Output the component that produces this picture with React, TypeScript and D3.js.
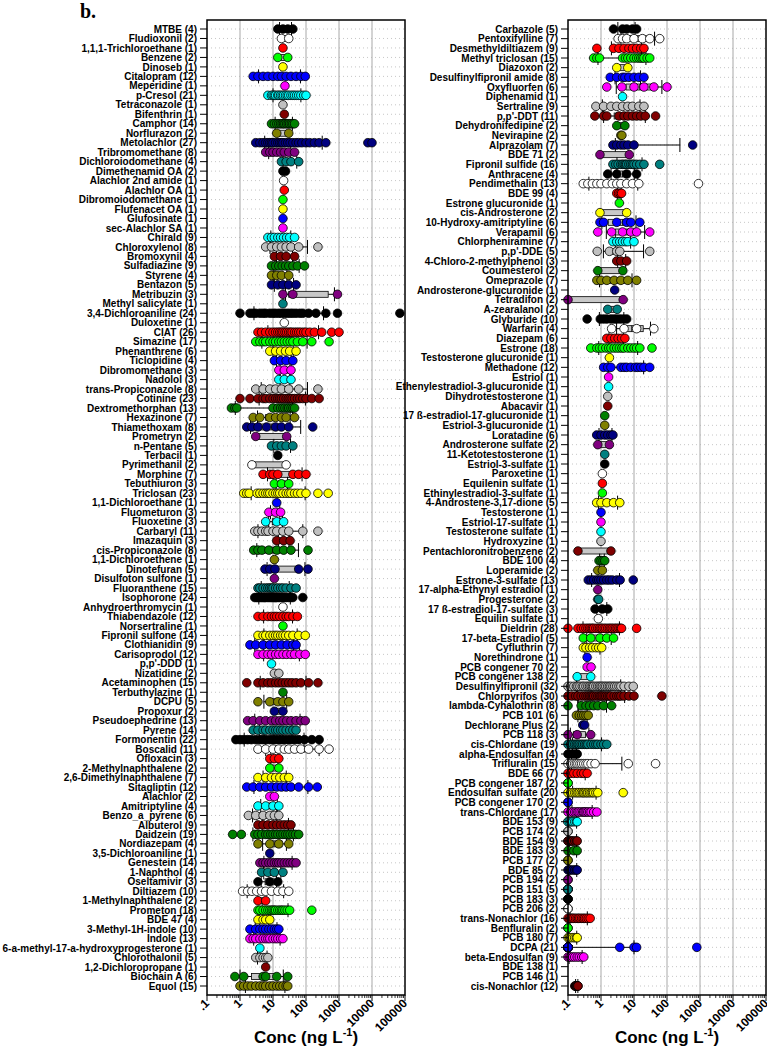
import React from 'react';
import * as d3 from 'd3';

const leftLabels = [
  'MTBE (4)','Fludioxonil (2)','1,1,1-Trichloroethane (1)','Benzene (2)','Dinoseb (1)','Citalopram (12)','Meperidine (1)','p-Cresol (21)','Tetraconazole (1)','Bifenthrin (1)',
  'Camphor (14)','Norflurazon (2)','Metolachlor (27)','Tribromomethane (8)','Dichloroiodomethane (4)','Dimethenamid OA (2)','Alachlor 2nd amide (1)','Alachlor OA (1)','Dibromoiodomethane (1)','Flufenacet OA (1)',
  'Glufosinate (1)','sec-Alachlor SA (1)','Chirald (9)','Chloroxylenol (8)','Bromoxynil (4)','Sulfadiazine (9)','Styrene (4)','Bentazon (5)','Metribuzin (3)','Methyl salicylate (1)',
  '3,4-Dichloroaniline (24)','Duloxetine (1)','CIAT (26)','Simazine (17)','Phenanthrene (6)','Ticlopidine (4)','Dibromomethane (3)','Nadolol (3)','trans-Propiconazole (8)','Cotinine (23)',
  'Dextromethorphan (13)','Hexazinone (7)','Thiamethoxam (8)','Prometryn (2)','n-Pentane (5)','Terbacil (1)','Pyrimethanil (2)','Morphine (7)','Tebuthiuron (3)','Triclosan (23)',
  '1,1-Dichloroethane (1)','Fluometuron (3)','Fluoxetine (3)','Carbaryl (11)','Imazaquin (3)','cis-Propiconazole (8)','1,1-Dichloroethene (1)','Dinotefuran (5)','Disulfoton sulfone (1)','Fluoranthene (15)',
  'Isophorone (24)','Anhydroerthromycin (1)','Thiabendazole (12)','Norsertraline (1)','Fipronil sulfone (14)','Clothianidin (9)','Carisoprodol (12)',"p,p'-DDD (1)",'Nizatidine (2)','Acetaminophen (15)',
  'Terbuthylazine (1)','DCPU (5)','Propoxur (2)','Pseudoephedrine (13)','Pyrene (14)','Formonentin (22)','Boscalid (11)','Ofloxacin (3)','2-Methylnaphthalene (2)','2,6-Dimethylnaphthalene (7)',
  'Sitagliptin (12)','Alachlor (2)','Amitriptyline (4)','Benzo_a_pyrene (6)','Albuterol (9)','Daidzein (19)','Nordiazepam (4)','3,5-Dichloroaniline (1)','Genestein (14)','1-Naphthol (4)',
  'Oseltamivir (3)','Diltiazem (10)','1-Methylnaphthalene (2)','Prometon (18)','BDE 47 (4)','3-Methyl-1H-indole (10)','Indole (13)','6-a-methyl-17-a-hydroxyprogesterone (1)','Chlorothalonil (5)','1,2-Dichloropropane (1)',
  'Biochain A (6)','Equol (15)'
];

const leftValues: number[][] = [
  [14, 20, 28, 40],
  [18, 30],
  [20],
  [14, 28],
  [20],
  [2.5, 3.5, 5, 7, 10, 14, 18, 25, 35, 50, 70, 95],
  [23],
  [7, 9, 10, 11, 12, 14, 15, 17, 19, 21, 24, 27, 30, 35, 40, 45, 52, 60, 70, 85, 100],
  [20],
  [22],
  [9, 11, 13, 15, 17, 19, 21, 23, 26, 29, 32, 36, 40, 45],
  [13, 30],
  [3, 4, 5, 6, 7, 8, 9, 10, 12, 14, 16, 18, 20, 24, 28, 33, 40, 50, 60, 75, 100, 130, 180, 250, 400, 7500, 10000],
  [6, 8, 10, 13, 17, 22, 30, 45],
  [18, 25, 35, 60],
  [20, 24],
  [21],
  [22],
  [20],
  [20],
  [20],
  [20],
  [7, 9, 11, 14, 17, 21, 26, 32, 45],
  [6, 9, 13, 18, 25, 35, 60, 230],
  [11, 17, 25, 45],
  [9, 12, 15, 19, 24, 30, 40, 55, 90],
  [9, 13, 18, 30],
  [9, 14, 20, 30, 50],
  [20, 40, 900],
  [20],
  [1, 2, 2.5, 3, 4, 5, 6, 8, 10, 12, 15, 18, 22, 27, 33, 40, 50, 65, 80, 120, 200, 400, 900, 70000],
  [22],
  [3.5, 4.5, 6, 8, 10, 12, 14, 16, 18, 20, 23, 26, 30, 34, 38, 45, 52, 60, 70, 85, 100, 130, 180, 300, 600, 1000],
  [3, 4, 5, 6, 8, 10, 12, 15, 18, 22, 27, 33, 40, 55, 80, 150, 500],
  [8, 12, 17, 24, 32, 50],
  [11, 17, 25, 40],
  [15, 22, 35],
  [15, 22, 35],
  [3, 5, 8, 12, 18, 30, 60, 230],
  [1, 2, 3.5, 5, 6, 8, 10, 12, 14, 16, 18, 21, 25, 29, 33, 38, 45, 55, 65, 80, 100, 150, 250],
  [0.55, 0.7, 0.8, 10, 14, 17, 20, 23, 27, 30, 35, 40, 45],
  [2.5, 4, 8, 12, 18, 25, 45],
  [1.6, 2.3, 3.5, 6.4, 12, 18, 30, 160],
  [3, 26],
  [9, 13, 18, 25, 40],
  [14],
  [2.3, 25],
  [5, 8, 10, 14, 40, 60, 100],
  [11, 18, 30],
  [1.3, 1.6, 1.9, 3.3, 4, 5, 6, 7, 8, 10, 12, 14, 16, 20, 25, 30, 35, 45, 55, 70, 100, 230, 470],
  [13],
  [7.5, 12, 17],
  [6, 13, 21],
  [2.8, 3.5, 4.6, 6, 7.1, 10, 13, 20, 30, 80, 230],
  [13, 21, 33],
  [2.6, 3.5, 4.6, 7.5, 13, 21, 35, 115],
  [11],
  [5.7, 8, 11.5, 60, 115],
  [11],
  [3.5, 4, 5, 6, 7, 8, 9, 10, 12, 14, 17, 20, 25, 35, 50],
  [2.8, 3.2, 3.6, 4, 4.5, 5, 5.5, 6, 7, 8, 9, 10, 11, 12, 13, 15, 17, 19, 22, 25, 30, 35, 40, 80],
  [20],
  [3.5, 5, 7, 9, 11, 13, 16, 20, 25, 30, 40, 55],
  [20],
  [3.5, 5, 6, 8, 10, 12, 14, 17, 20, 24, 30, 40, 60, 95],
  [2, 3, 5, 8, 12, 18, 27, 40, 50],
  [3.5, 5, 7, 9, 12, 15, 20, 26, 35, 45, 65, 95],
  [9],
  [11, 15],
  [1.6, 3.5, 5, 7, 9, 12, 15, 19, 24, 30, 38, 50, 70, 120, 230],
  [20],
  [3.5, 8, 14, 20, 30],
  [11, 20],
  [1.7, 2.5, 4, 6, 9, 12, 16, 20, 26, 35, 50, 70, 95],
  [2.5, 3.5, 5, 6, 8, 10, 12, 14, 17, 20, 25, 32, 40, 50],
  [0.75, 1, 1.3, 1.7, 2.2, 3, 4, 5, 6, 8, 10, 12, 15, 18, 22, 28, 35, 45, 60, 90, 150, 250],
  [3.5, 6, 10, 15, 22, 30, 45, 70, 120, 250, 500],
  [8, 11, 15],
  [8, 15],
  [3.5, 6, 9, 12, 16, 22, 30],
  [1.6, 2.5, 4, 6, 9, 13, 18, 25, 35, 60, 120, 220],
  [8, 11],
  [3.5, 6, 10, 15],
  [1.8, 3, 5, 8, 11, 15],
  [3.5, 5, 7, 10, 13, 17, 22, 28, 35],
  [0.6, 1.1, 2.8, 3.5, 4.5, 6, 7, 8.5, 10, 12, 14, 17, 20, 24, 28, 33, 40, 48, 60],
  [3.5, 8, 15, 30],
  [8],
  [4, 5, 6, 7.5, 9, 11, 13, 15, 18, 22, 27, 33, 40, 50],
  [4.5, 7, 11, 20],
  [3.5, 8, 14],
  [1.2, 1.7, 2.3, 3.2, 4.5, 6, 9, 14, 20, 30],
  [3.5, 6],
  [3.5, 4, 5, 6, 7, 8, 9, 10, 11, 12, 14, 16, 18, 20, 23, 27, 32, 150],
  [3.5, 5, 6, 8],
  [2, 3, 4, 5, 6, 7.5, 9, 11, 13, 15],
  [2, 2.5, 3, 4, 5, 6, 7, 8, 10, 12, 14, 17, 20],
  [4],
  [3, 4, 5, 6, 7],
  [6],
  [0.7, 1.3, 5, 6, 13, 28],
  [1, 1.3, 1.7, 2.2, 3, 4, 5, 6, 8, 10, 13, 16, 20, 25, 28]
];

const rightLabels = [
  'Carbazole (5)','Pentoxifylline (7)','Desmethyldiltiazem (9)','Methyl triclosan (15)','Diazoxon (2)','Desulfinylfipronil amide (8)','Oxyfluorfen (6)','Diphenamid (1)','Sertraline (9)',"p,p'-DDT (11)",
  'Dehydronifedipine (2)','Nevirapine (2)','Alprazolam (7)','BDE 71 (2)','Fipronil sulfide (16)','Anthracene (4)','Pendimethalin (13)','BDE 99 (4)','Estrone glucuronide (1)','cis-Androsterone (2)',
  '10-Hydroxy-amitriptyline (6)','Verapamil (6)','Chlorpheniramine (7)',"p,p'-DDE (5)",'4-Chloro-2-methylphenol (3)','Coumesterol (2)','Omeprazole (7)','Androsterone-glucuronide (1)','Tetradifon (2)','A-zearalanol (2)',
  'Glyburide (10)','Warfarin (4)','Diazepam (6)','Estrone (18)','Testosterone glucuronide (1)','Methadone (12)','Estriol (1)','Ethenylestradiol-3-glucuronide (1)','Dihydrotestosterone (1)','Abacavir (1)',
  '17 ß-estradiol-17-glucuronide (1)','Estriol-3-glucuronide (1)','Loratadine (6)','Androsterone sulfate (2)','11-Ketotestosterone (1)','Estriol-3-sulfate (1)','Paroxetine (1)','Equilenin sulfate (1)','Ethinylestradiol-3-sulfate (1)','4-Androstene-3,17-dione (5)',
  'Testosterone (1)','Estriol-17-sulfate (1)','Testosterone sulfate (1)','Hydroxyzine (1)','Pentachloronitrobenzene (2)','BDE 100 (4)','Loperamide (2)','Estrone-3-sulfate (13)','17-alpha-Ethynyl estradiol (1)','Progesterone (2)',
  '17 ß-estradiol-17-sulfate (3)','Equilin sulfate (1)','Dieldrin (28)','17-beta-Estradiol (5)','Cyfluthrin (7)','Norethindrone (1)','PCB congener 70 (2)','PCB congener 138 (2)','Desulfinylfipronil (32)','Chlorpyrifos (30)',
  'lambda-Cyhalothrin (8)','PCB 101 (6)','Dechlorane Plus (2)','PCB 118 (3)','cis-Chlordane (19)','alpha-Endosulfan (4)','Trifluralin (15)','BDE 66 (7)','PCB congener 187 (2)','Endosulfan sulfate (20)',
  'PCB congener 170 (2)','trans-Chlordane (17)','BDE 153 (9)','PCB 174 (2)','BDE 154 (9)','BDE 183 (3)','PCB 177 (2)','BDE 85 (7)','PCB 194 (2)','PCB 151 (5)',
  'PCB 183 (3)','PCB 206 (2)','trans-Nonachlor (16)','Benfluralin (2)','PCB 180 (7)','DCPA (21)','beta-Endosulfan (9)','BDE 138 (1)','PCB 146 (1)','cis-Nonachlor (12)'
];

const rightValues: number[][] = [
  [2.4, 4.5, 6, 9, 12],
  [3.3, 4.5, 6, 10, 18, 30, 60],
  [0.75, 2.4, 3.5, 5, 7, 9, 12, 16, 20],
  [0.6, 0.75, 0.9, 4.5, 5.5, 6.5, 8, 10, 12, 14, 16, 18, 20, 25, 30],
  [3, 6.5],
  [1.9, 3, 4.5, 5.3, 7, 10, 14, 20],
  [1.5, 4.3, 10, 20, 40, 100],
  [4.5],
  [0.7, 1.2, 2, 3, 4.5, 6.5, 9, 14, 20],
  [0.65, 1.2, 1.5, 3.5, 5, 6.5, 9, 12, 16, 22, 45],
  [3, 5.3],
  [4, 4.3],
  [2.3, 3, 4, 5, 6.5, 10, 600],
  [0.93, 7.2],
  [2.3, 2.8, 3.3, 4, 4.5, 5, 5.5, 6, 7, 8, 9, 10, 12, 15, 20, 60],
  [1.6, 3, 6, 12],
  [0.29, 0.4, 0.55, 0.75, 1, 1.5, 2.2, 3, 4, 6, 9, 14, 900],
  [3, 3.4, 3.8, 4.2],
  [3.6],
  [0.93, 6],
  [0.93, 1.2, 3, 6, 8, 15],
  [0.8, 2.1, 4.5, 8, 12, 30],
  [2.3, 3, 3.7, 4.5, 5.5, 6.5, 10],
  [0.77, 1.8, 3, 3.7, 30],
  [3, 4, 6],
  [0.8, 4.6],
  [0.75, 1, 1.5, 2.5, 4, 6.5, 12],
  [2.6],
  [0.1, 4.7],
  [1.6, 3.1],
  [0.38, 0.95, 1.2, 1.5, 2, 2.5, 3, 3.8, 4.8, 6],
  [2.1, 5, 12, 40],
  [1.5, 2, 2.6, 3.3, 4.2, 5.3],
  [0.49, 0.75, 0.9, 1.1, 1.4, 1.7, 2, 2.5, 3, 3.6, 4.3, 5, 6.5, 8, 10, 12, 15, 35],
  [1.8],
  [1.2, 1.6, 2, 4, 5, 6, 8, 11, 13, 16, 20, 30],
  [1.7],
  [1.7],
  [1.6],
  [1.6],
  [1.3],
  [1.3],
  [0.74, 1, 1.3, 1.6, 2, 2.3],
  [0.8, 1.8],
  [1.3],
  [1.3],
  [1.1],
  [1.1],
  [1.1],
  [0.74, 1, 1.5, 2.4, 3.7],
  [1],
  [1],
  [1],
  [1],
  [0.2, 2],
  [0.87, 1, 1.15, 1.3],
  [0.8, 1.1],
  [0.41, 0.5, 0.6, 0.75, 0.85, 1, 1.2, 1.5, 1.8, 2.2, 3, 3.8, 9.5],
  [0.8],
  [0.8, 0.85],
  [0.66, 1.1, 1.6],
  [0.83],
  [0.1, 0.2, 0.25, 0.3, 0.35, 0.4, 0.45, 0.5, 0.55, 0.6, 0.7, 0.8, 0.9, 1, 1.1, 1.25, 1.4, 1.6, 1.8, 2, 2.2, 2.5, 2.8, 3.1, 3.5, 3.9, 4.2, 12],
  [0.29, 0.49, 0.93, 1.5, 2.4],
  [0.29, 0.35, 0.45, 0.55, 0.7, 0.85, 1.05],
  [0.38],
  [0.38, 0.5],
  [0.19, 0.49],
  [0.1, 0.12, 0.15, 0.18, 0.2, 0.23, 0.27, 0.3, 0.35, 0.4, 0.45, 0.5, 0.55, 0.6, 0.7, 0.8, 0.9, 1, 1.1, 1.25, 1.4, 1.6, 1.8, 2, 2.3, 2.6, 3, 3.5, 4, 5, 7, 9.5],
  [0.1, 0.13, 0.17, 0.2, 0.25, 0.3, 0.35, 0.4, 0.45, 0.5, 0.55, 0.6, 0.7, 0.8, 0.9, 1, 1.1, 1.25, 1.4, 1.6, 1.8, 2, 2.5, 3, 3.5, 4, 5, 7, 10, 70],
  [0.1, 0.25, 0.35, 0.45, 0.6, 0.8, 1.2, 2.1],
  [0.18, 0.22, 0.26, 0.3, 0.35, 0.41],
  [0.28, 0.32],
  [0.1, 0.19, 0.49],
  [0.1, 0.12, 0.14, 0.16, 0.18, 0.2, 0.22, 0.25, 0.28, 0.32, 0.36, 0.4, 0.5, 0.6, 0.7, 0.8, 1, 1.2, 1.5],
  [0.1, 0.13, 0.16, 0.19],
  [0.1, 0.12, 0.14, 0.16, 0.18, 0.2, 0.23, 0.26, 0.3, 0.35, 0.4, 0.5, 0.66, 6.7, 45],
  [0.1, 0.12, 0.15, 0.19, 0.25, 0.3, 0.38],
  [0.1, 0.1],
  [0.1, 0.12, 0.14, 0.16, 0.18, 0.2, 0.22, 0.25, 0.28, 0.3, 0.33, 0.37, 0.4, 0.45, 0.5, 0.55, 0.6, 0.7, 0.8, 4.7],
  [0.1, 0.1],
  [0.1, 0.12, 0.14, 0.16, 0.18, 0.2, 0.22, 0.25, 0.28, 0.3, 0.33, 0.36, 0.4, 0.45, 0.5, 0.6, 0.75],
  [0.1, 0.1, 0.11, 0.12, 0.13, 0.14, 0.16, 0.18, 0.19],
  [0.1, 0.1],
  [0.1, 0.1, 0.11, 0.12, 0.13, 0.14, 0.16, 0.18, 0.19],
  [0.1, 0.15, 0.19],
  [0.1, 0.1],
  [0.1, 0.11, 0.12, 0.14, 0.16, 0.18, 0.19],
  [0.1, 0.1],
  [0.1, 0.1, 0.1, 0.1, 0.1],
  [0.1, 0.1, 0.1],
  [0.1, 0.1],
  [0.1, 0.11, 0.12, 0.13, 0.14, 0.15, 0.17, 0.19, 0.21, 0.23, 0.26, 0.29, 0.32, 0.36, 0.41, 0.47],
  [0.1, 0.1],
  [0.1, 0.11, 0.12, 0.14, 0.16, 0.18, 0.19],
  [0.1, 0.1, 0.1, 0.1, 0.1, 0.1, 0.1, 0.1, 0.1, 0.1, 0.1, 0.1, 0.1, 0.1, 0.1, 0.1, 0.1, 3.7, 10, 12, 800],
  [0.1, 0.11, 0.12, 0.14, 0.16, 0.19, 0.22, 0.26, 0.3],
  [0.05],
  [0.05],
  [0.16, 0.17, 0.17, 0.18, 0.18, 0.18, 0.18, 0.19, 0.19, 0.19, 0.2, 0.2]
];

const tickValues = [0.1, 1, 10, 100, 1000, 10000, 100000];
const tickLabels = ['.1', '1', '10', '100', '1000', '10000', '100000'];
const palette = ['#000000', '#ffffff', '#ff0000', '#00ff00', '#ffff00', '#0000ff', '#ff00ff', '#00ffff', '#c0c0c0', '#800000', '#008000', '#808000', '#000080', '#800080', '#008080'];

const FONT = '"Liberation Sans", Arial, sans-serif';
const Y0 = 20;
const Y1 = 995;
const ROW_TOP = 29;
const ROW_BOTTOM = 986;

function Panel({ labels, values, x0, x1 }: { labels: string[]; values: number[][]; x0: number; x1: number }) {
  const x = d3.scaleLog().domain([0.1, 100000]).range([x0, x1]);
  const y = d3.scalePoint<number>().domain(labels.map((_, i) => i)).range([ROW_TOP, ROW_BOTTOM]);
  const minor: number[] = [];
  for (let e = -1; e < 5; e++) for (let k = 2; k <= 9; k++) minor.push(k * Math.pow(10, e));

  return (
    <g>
      {labels.map((_, i) => (
        <line key={'hg' + i} x1={x0} x2={x1} y1={y(i)} y2={y(i)} stroke="#b8b8b8" strokeWidth={0.8} strokeDasharray="1,3" />
      ))}
      {tickValues.slice(1, -1).map((t) => (
        <line key={'vg' + t} x1={x(t)} x2={x(t)} y1={Y0} y2={Y1} stroke="#a8a8a8" strokeWidth={1} />
      ))}
      {values.map((vals, i) => {
        const s = vals.filter((v) => v >= 0.1).sort(d3.ascending);
        const n = s.length;
        const cy = y(i) as number;
        if (n < 2) return null;
        let lo, hi, med, w0, w1;
        if (n === 2) {
          lo = s[0]; hi = s[1]; med = null; w0 = null; w1 = null;
        } else {
          lo = d3.quantile(s, 0.25)!; hi = d3.quantile(s, 0.75)!; med = d3.quantile(s, 0.5)!;
          w0 = d3.quantile(s, 0.1)!; w1 = d3.quantile(s, 0.9)!;
        }
        return (
          <g key={'b' + i}>
            {w0 !== null && (
              <g stroke="#000" strokeWidth={1}>
                <line x1={x(w0)} x2={x(lo)} y1={cy} y2={cy} />
                <line x1={x(hi)} x2={x(w1!)} y1={cy} y2={cy} />
                <line x1={x(w0)} x2={x(w0)} y1={cy - 7} y2={cy + 7} />
                <line x1={x(w1!)} x2={x(w1!)} y1={cy - 7} y2={cy + 7} />
              </g>
            )}
            <rect x={x(lo)} y={cy - 3} width={Math.max(0.5, x(hi) - x(lo))} height={6} fill="#c8c8c8" stroke="#000" strokeWidth={0.8} />
            {med !== null && <line x1={x(med)} x2={x(med)} y1={cy - 3} y2={cy + 3} stroke="#000" strokeWidth={0.8} />}
          </g>
        );
      })}
      {values.map((vals, i) =>
        vals.filter((v) => v >= 0.1).map((v, j) => (
          <circle key={'c' + i + '-' + j} cx={x(v)} cy={y(i)} r={4.3} fill={palette[i % 15]} stroke="#000" strokeWidth={0.8} />
        ))
      )}
      <rect x={x0} y={Y0} width={x1 - x0} height={Y1 - Y0} fill="none" stroke="#000" strokeWidth={1.5} />
      {labels.map((l, i) => (
        <g key={'yl' + i}>
          <line x1={x0 - 7} x2={x0} y1={y(i)} y2={y(i)} stroke="#000" strokeWidth={1} />
          <text x={x0 - 10} y={(y(i) as number) + 3.6} textAnchor="end" fontFamily={FONT} fontWeight="bold" fontSize={10}>{l}</text>
        </g>
      ))}
      {minor.map((m) => (
        <line key={'mt' + m} x1={x(m)} x2={x(m)} y1={Y1} y2={Y1 + 3} stroke="#000" strokeWidth={0.8} />
      ))}
      {tickValues.map((t, k) => (
        <g key={'xt' + t}>
          <line x1={x(t)} x2={x(t)} y1={Y1} y2={Y1 + 6} stroke="#000" strokeWidth={1} />
          <text transform={`translate(${x(t) + 3},${Y1 + 9}) rotate(-45)`} textAnchor="end" fontFamily={FONT} fontWeight="bold" fontSize={12}>{tickLabels[k]}</text>
        </g>
      ))}
      <text x={(x0 + x1) / 2} y={1043} textAnchor="middle" fontFamily={FONT} fontWeight="bold" fontSize={17}>
        Conc (ng L<tspan dy={-7} fontSize={11}>-1</tspan><tspan dy={7}>)</tspan>
      </text>
    </g>
  );
}

export default function App() {
  return (
    <svg width={767} height={1050} style={{ position: 'absolute', left: 0, top: 0, background: '#fff' }}>
      <rect width={767} height={1050} fill="#fff" />
      <text x={80} y={18} fontFamily='"Liberation Serif", "Times New Roman", serif' fontWeight="bold" fontSize={20}>b.</text>
      <Panel labels={leftLabels} values={leftValues} x0={207} x1={405} />
      <Panel labels={rightLabels} values={rightValues} x0={568} x1={766} />
    </svg>
  );
}
